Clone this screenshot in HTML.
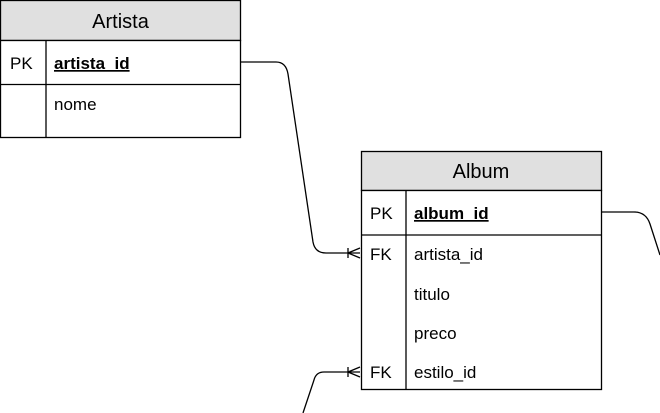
<!DOCTYPE html>
<html><head><style>
body{margin:0;width:660px;height:413px;background:#fff;overflow:hidden;font-family:"Liberation Sans",Helvetica,sans-serif;}
</style></head><body>
<svg width="660" height="413" xmlns="http://www.w3.org/2000/svg" style="position:absolute;left:0;top:0">
<g fill="none" stroke="#000" stroke-width="1.3">
<path d="M241 62 H276 Q286 62 288 74 L313 242 Q315 253 326 253 H360"/>
<path d="M348 253 L360 248 M348 253 L360 258 M348 248 V258"/>
<path d="M601 212 H634 Q646 212 650 224 L660 255"/>
<path d="M360 372 H324 Q316 372 314 380 L303 413"/>
<path d="M348 372 L360 367 M348 372 L360 377 M348 367 V377"/>
</g>
<rect x="0.5" y="0.5" width="240" height="40" fill="#e0e0e0" stroke="#000" stroke-width="1.3"/>
<rect x="0.5" y="40.5" width="240" height="97" fill="#fff" stroke="#000" stroke-width="1.3"/>
<line x1="0" y1="84.5" x2="241" y2="84.5" stroke="#000" stroke-width="1.3"/>
<line x1="46" y1="40" x2="46" y2="138" stroke="#000" stroke-width="1.3"/>
<text x="120.5" y="28" font-size="20" text-anchor="middle" font-family="Liberation Sans,sans-serif">Artista</text>
<text x="10" y="69" font-size="17" font-family="Liberation Sans,sans-serif">PK</text>
<text x="54" y="69" font-size="17" font-weight="bold" text-decoration="underline" font-family="Liberation Sans,sans-serif">artista_id</text>
<text x="54" y="110" font-size="17" font-family="Liberation Sans,sans-serif">nome</text>

<rect x="361.5" y="151.5" width="240" height="39" fill="#e0e0e0" stroke="#000" stroke-width="1.3"/>
<rect x="361.5" y="190.5" width="240" height="199" fill="#fff" stroke="#000" stroke-width="1.3"/>
<line x1="361" y1="235" x2="602" y2="235" stroke="#000" stroke-width="1.3"/>
<line x1="406" y1="190" x2="406" y2="390" stroke="#000" stroke-width="1.3"/>
<text x="481" y="178" font-size="20" text-anchor="middle" font-family="Liberation Sans,sans-serif">Album</text>
<text x="370" y="219" font-size="17" font-family="Liberation Sans,sans-serif">PK</text>
<text x="414" y="219" font-size="17" font-weight="bold" text-decoration="underline" font-family="Liberation Sans,sans-serif">album_id</text>
<text x="370" y="260" font-size="17" font-family="Liberation Sans,sans-serif">FK</text>
<text x="414" y="260" font-size="17" font-family="Liberation Sans,sans-serif">artista_id</text>
<text x="414" y="300" font-size="17" font-family="Liberation Sans,sans-serif">titulo</text>
<text x="414" y="339" font-size="17" font-family="Liberation Sans,sans-serif">preco</text>
<text x="370" y="378" font-size="17" font-family="Liberation Sans,sans-serif">FK</text>
<text x="414" y="378" font-size="17" font-family="Liberation Sans,sans-serif">estilo_id</text>
</svg>
</body></html>
